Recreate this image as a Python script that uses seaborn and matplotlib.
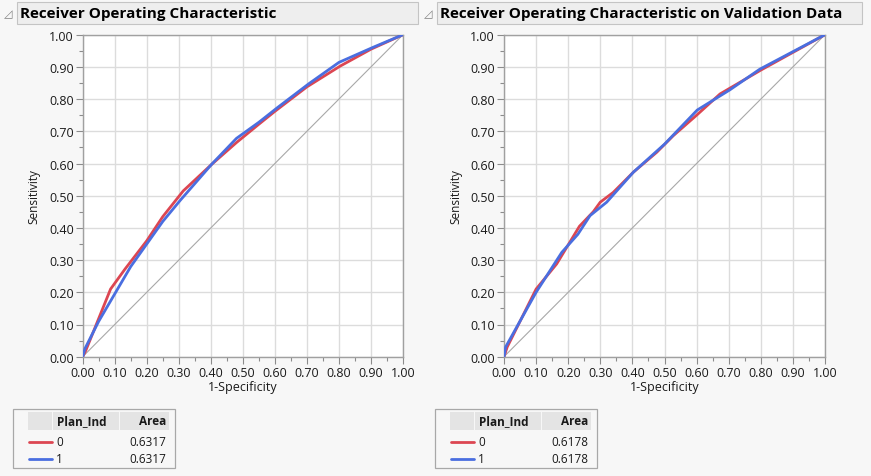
import matplotlib
matplotlib.use("Agg")
import matplotlib.pyplot as plt
from matplotlib.patches import Rectangle
from matplotlib.lines import Line2D
from matplotlib.ticker import MultipleLocator
import numpy as np
import pandas as pd
import seaborn as sns

# ROC curves (1-Specificity, Sensitivity) per Plan_Ind level
train_fpr_0 = [0.0, 0.01, 0.087, 0.132, 0.20, 0.25, 0.314, 0.40, 0.48, 0.55, 0.60, 0.70, 0.803, 0.90, 1.0]
train_tpr_0 = [0.0, 0.02, 0.21, 0.272, 0.36, 0.435, 0.515, 0.595, 0.665, 0.722, 0.762, 0.838, 0.902, 0.955, 1.0]
train_fpr_1 = [0.0, 0.007, 0.05, 0.10, 0.15, 0.20, 0.25, 0.304, 0.403, 0.48, 0.55, 0.606, 0.705, 0.80, 0.907, 1.0]
train_tpr_1 = [0.0, 0.025, 0.11, 0.195, 0.28, 0.35, 0.42, 0.485, 0.598, 0.678, 0.728, 0.772, 0.847, 0.914, 0.961, 1.0]

valid_fpr_0 = [0.0, 0.01, 0.10, 0.164, 0.235, 0.278, 0.30, 0.34, 0.403, 0.476, 0.527, 0.60, 0.673, 0.80, 1.0]
valid_tpr_0 = [0.0, 0.03, 0.21, 0.288, 0.405, 0.45, 0.48, 0.51, 0.573, 0.635, 0.686, 0.75, 0.816, 0.89, 1.0]
valid_fpr_1 = [0.0, 0.005, 0.10, 0.18, 0.23, 0.268, 0.32, 0.403, 0.50, 0.602, 0.704, 0.797, 1.0]
valid_tpr_1 = [0.0, 0.03, 0.20, 0.324, 0.38, 0.438, 0.48, 0.573, 0.66, 0.766, 0.829, 0.893, 1.0]

train_area = ["0.6317", "0.6317"]
valid_area = ["0.6178", "0.6178"]
levels = ["0", "1"]

titles = ["Receiver Operating Characteristic",
          "Receiver Operating Characteristic on Validation Data"]

RED = "#dc4652"
BLUE = "#4a6ee0"
BG = "#f7f7f7"

sns.set_theme(style="white")
plt.rcParams["font.family"] = ["Open Sans", "DejaVu Sans"]


def roc_frame(f0, t0, f1, t1):
    d0 = pd.DataFrame({"fpr": f0, "tpr": t0, "Plan_Ind": "0"})
    d1 = pd.DataFrame({"fpr": f1, "tpr": t1, "Plan_Ind": "1"})
    return pd.concat([d0, d1], ignore_index=True)


frames = [roc_frame(train_fpr_0, train_tpr_0, train_fpr_1, train_tpr_1),
          roc_frame(valid_fpr_0, valid_tpr_0, valid_fpr_1, valid_tpr_1)]
areas = [train_area, valid_area]

W, H = 871, 477
fig = plt.figure(figsize=(W / 100, H / 100), dpi=100, facecolor=BG)

axes_px = [(82.7, 403.0), (504.0, 825.0)]
top_px, bot_px = 35.7, 357.7
title_px = [(17, 418), (437, 862)]
legend_px = [13, 435]


def fx(px):
    return px / W


def fy(py):
    return 1 - py / H


for i in range(2):
    x0, x1 = axes_px[i]
    ax = fig.add_axes([fx(x0), fy(bot_px), fx(x1 - x0), (bot_px - top_px) / H])
    ax.set_facecolor("white")

    ax.plot([0, 1], [0, 1], color="#a8a8a8", lw=0.8, zorder=2)
    sns.lineplot(data=frames[i], x="fpr", y="tpr", hue="Plan_Ind",
                 palette={"0": RED, "1": BLUE}, sort=False, estimator=None,
                 lw=2.0, ax=ax, legend=False, zorder=3)

    ax.set_xlim(0, 1)
    ax.set_ylim(0, 1)
    ticks = np.round(np.arange(0, 1.01, 0.1), 2)
    ax.set_xticks(ticks)
    ax.set_yticks(ticks)
    ax.set_xticklabels([f"{t:.2f}" for t in ticks])
    ax.set_yticklabels([f"{t:.2f}" for t in ticks])
    ax.xaxis.set_minor_locator(MultipleLocator(0.05))
    ax.yaxis.set_minor_locator(MultipleLocator(0.05))
    ax.tick_params(which="major", direction="out", length=5, width=0.8,
                   color="#8c8c8c", labelsize=9, labelcolor="#1a1a1a", pad=1.5)
    ax.tick_params(which="minor", direction="out", length=3, width=0.8,
                   color="#8c8c8c")
    ax.tick_params(bottom=True, left=True, which="both")
    ax.grid(True, which="major", color="#dcdcdc", lw=1.0, zorder=0)
    ax.set_axisbelow(True)
    for sp in ax.spines.values():
        sp.set_color("#a0a0a0")
        sp.set_linewidth(1.0)
    ax.set_xlabel("1-Specificity", fontsize=9, color="#1a1a1a", labelpad=1)
    ax.set_ylabel("Sensitivity", fontsize=8.5, color="#1a1a1a", labelpad=6)

    # outline title bar
    tx0, tx1 = title_px[i]
    fig.patches.append(Rectangle((fx(tx0), fy(25)), fx(tx1 - tx0), 22 / H,
                                 transform=fig.transFigure, facecolor="#eeeeee",
                                 edgecolor="#c4c4c4", lw=0.8))
    fig.text(fx(tx0 + 3), fy(14), titles[i], fontsize=11, fontweight="bold",
             color="black", va="center", ha="left")
    # disclosure triangle
    fig.text(fx(tx0 - 9), fy(14.5), "\u25FF", fontsize=8, color="#808080",
             va="center", ha="center", family=["DejaVu Sans"])

    # area table
    lx = legend_px[i]
    fig.patches.append(Rectangle((fx(lx), fy(469)), fx(162), 59 / H,
                                 transform=fig.transFigure, facecolor=BG,
                                 edgecolor="#a8a8a8", lw=0.9))
    for cx0, cx1 in [(15, 39), (40, 106), (107, 156)]:
        fig.patches.append(Rectangle((fx(lx + cx0), fy(431)), fx(cx1 - cx0), 18 / H,
                                     transform=fig.transFigure,
                                     facecolor="#e4e4e4", edgecolor="none"))
    fig.text(fx(lx + 44), fy(422), "Plan_Ind", fontsize=8.5, fontweight="bold",
             color="#1a1a1a", va="center", ha="left")
    fig.text(fx(lx + 153), fy(422), "Area", fontsize=8.5, fontweight="bold",
             color="#1a1a1a", va="center", ha="right")
    for r, (lev, col) in enumerate(zip(levels, [RED, BLUE])):
        yy = 443 + r * 17
        fig.lines.append(Line2D([fx(lx + 16), fx(lx + 39)], [fy(yy), fy(yy)],
                                transform=fig.transFigure, color=col, lw=2.0))
        fig.text(fx(lx + 43), fy(yy), lev, fontsize=8.5, color="#1a1a1a",
                 va="center", ha="left")
        fig.text(fx(lx + 153), fy(yy), areas[i][r], fontsize=8.5,
                 color="#1a1a1a", va="center", ha="right")

fig.savefig("out.png", dpi=100, facecolor=BG)
